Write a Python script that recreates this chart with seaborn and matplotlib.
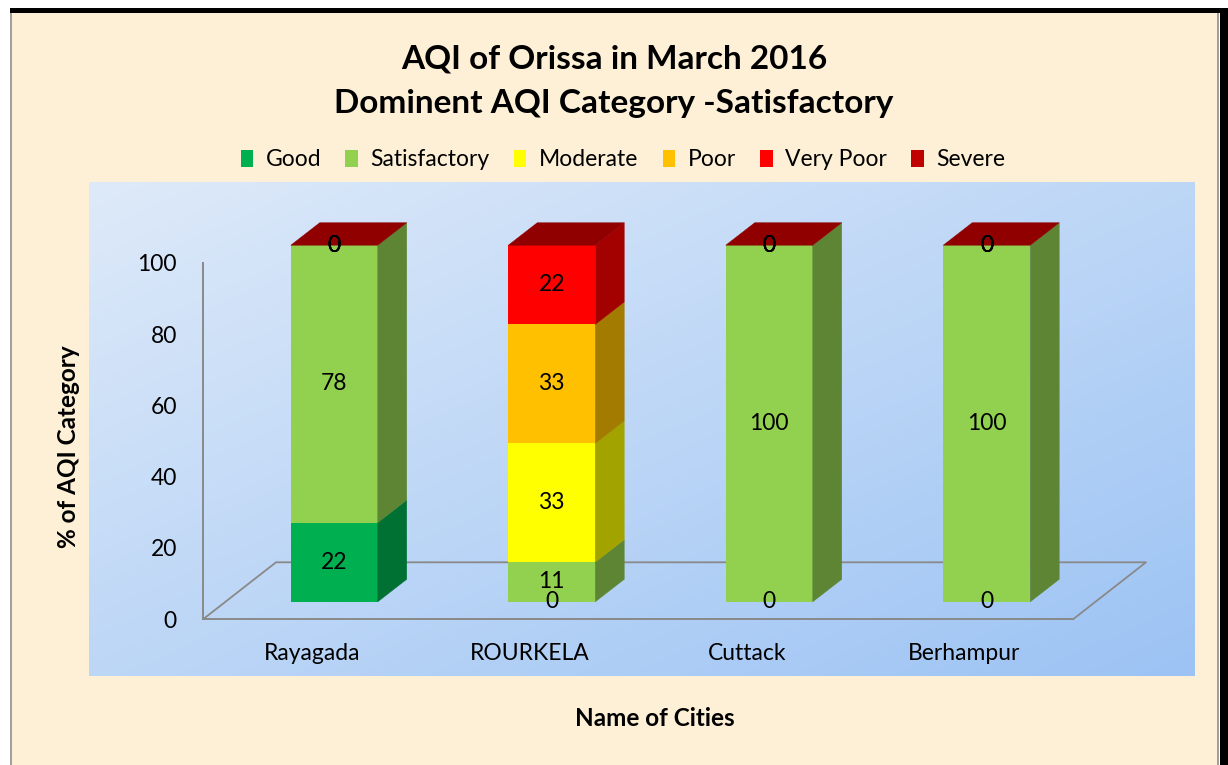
import numpy as np
import pandas as pd
import matplotlib
matplotlib.use("Agg")
import matplotlib.pyplot as plt
import matplotlib.transforms as mtransforms
from matplotlib.colors import to_rgb
from matplotlib.patches import Polygon, Rectangle, Patch
import seaborn as sns

# data (% of days per AQI category, labels shown rounded)
cities = ["Rayagada", "ROURKELA", "Cuttack", "Berhampur"]
categories = ["Good", "Satisfactory", "Moderate", "Poor", "Very Poor", "Severe"]
good = [22.22, 0, 0, 0]
satisfactory = [77.78, 11.11, 100, 100]
moderate = [0, 33.33, 0, 0]
poor = [0, 33.33, 0, 0]
very_poor = [0, 22.22, 0, 0]
severe = [0, np.nan, 0, 0]

colors = ["#00B050", "#92D050", "#FFFF00", "#FFC000", "#FF0000", "#C00000"]

df = pd.DataFrame({"Good": good, "Satisfactory": satisfactory, "Moderate": moderate,
                   "Poor": poor, "Very Poor": very_poor, "Severe": severe}, index=cities)
values = df.fillna(0)
tops = values.cumsum(axis=1)
bottoms = tops - values

sns.set_style("white")
plt.rcParams["font.family"] = ["Lato", "DejaVu Sans"]
plt.rcParams["text.color"] = "black"

gray = "#898989"
W, H = 1228, 765


def fx(px):
    return px / W


def fy(py):
    return 1 - py / H


def shade(c, f):
    return tuple(np.array(to_rgb(c)) * f)


fig = plt.figure(figsize=(W / 100, H / 100), dpi=100, facecolor="white")

# frame + parchment background
fig.patches.append(Rectangle((fx(10), 0), fx(1219) - fx(10), fy(13), transform=fig.transFigure,
                             facecolor="#FDF0D6", edgecolor="none", zorder=0))
fig.patches.append(Rectangle((fx(10), 0), fx(2), fy(13), transform=fig.transFigure,
                             facecolor="#A0A0A0", edgecolor="none", zorder=0))
fig.patches.append(Rectangle((fx(1217), 0), fx(2), fy(13), transform=fig.transFigure,
                             facecolor="#A0A0A0", edgecolor="none", zorder=0))
fig.patches.append(Rectangle((fx(10), fy(13)), 1 - fx(10), fy(8) - fy(13), transform=fig.transFigure,
                             facecolor="black", edgecolor="none", zorder=0))
fig.patches.append(Rectangle((fx(1220), 0), 1 - fx(1220), fy(8), transform=fig.transFigure,
                             facecolor="black", edgecolor="none", zorder=0))

# blue gradient plot area
bg = fig.add_axes([fx(89), fy(676), fx(1195) - fx(89), fy(182) - fy(676)], zorder=1)
c1, c2 = np.array(to_rgb("#DEEAF9")), np.array(to_rgb("#9CC3F4"))
u = np.linspace(0, 1, 300)
t = (u[None, :] + u[:, None]) / 2
bg.imshow(c1 + t[..., None] * (c2 - c1), aspect="auto", extent=(0, 1, 0, 1), origin="upper")
bg.axis("off")

# main axes
XU, YU = 217.5, 3.566  # pixels per data unit
ax = fig.add_axes([fx(203), fy(619.3), fx(1160) - fx(203), fy(200) - fy(619.3)], zorder=2)
ax.set_facecolor("none")

front = mtransforms.offset_copy(ax.transData, fig=fig, x=22.5, y=17.5, units="dots")
ddx, ddy = 29 / XU, 22.5 / YU

# stacked bars: draw cumulative tops from the top category down
last = []
for k in reversed(range(len(categories))):
    n0 = len(ax.patches)
    sns.barplot(x=cities, y=tops.iloc[:, k].values, color=colors[k], saturation=1,
                width=0.4, errorbar=None, edgecolor="none", linewidth=0, ax=ax)
    last = ax.patches[n0:]
    for p in last:
        p.set_transform(front)
        p.set_zorder(3)

# 3d side and top faces
for i, p in enumerate(last):
    xl, xr = p.get_x(), p.get_x() + p.get_width()
    for k in range(len(categories)):
        b, tp = bottoms.iat[i, k], tops.iat[i, k]
        if tp > b:
            c = shade(colors[k], 0.64)
            ax.add_patch(Polygon([(xr, b), (xr + ddx, b + ddy), (xr + ddx, tp + ddy), (xr, tp)],
                                 closed=True, facecolor=c, edgecolor=c, lw=0.3,
                                 transform=front, zorder=3))
    T = tops.iat[i, -1]
    c = shade(colors[-1], 0.75)
    ax.add_patch(Polygon([(xl, T), (xl + ddx, T + ddy), (xr + ddx, T + ddy), (xr, T)],
                         closed=True, facecolor=c, edgecolor=c, lw=0.3, transform=front, zorder=3))

# data labels
for i in range(len(cities)):
    for k in range(len(categories)):
        v = df.iat[i, k]
        if np.isnan(v):
            continue
        ax.text(i, bottoms.iat[i, k] + values.iat[i, k] / 2, f"{v:.0f}", transform=front,
                ha="center", va="center", fontsize=16.5, color="black", zorder=5)

# floor
fdx, fdy = 73 / XU, 57 / YU
ax.plot([-0.5, -0.5 + fdx, 3.5 + fdx, 3.5], [0, fdy, fdy, 0], color=gray, lw=1.3,
        clip_on=False, zorder=1)

ax.set_xlim(-0.5, -0.5 + (1160 - 203) / XU)
ax.set_ylim(0, (619.3 - 200) / YU)
for s in ["top", "right"]:
    ax.spines[s].set_visible(False)
for s in ["left", "bottom"]:
    ax.spines[s].set_color(gray)
    ax.spines[s].set_linewidth(1.4)
ax.spines["left"].set_bounds(0, 100)
ax.spines["bottom"].set_bounds(-0.5, 3.5)

ax.set_yticks(range(0, 101, 20))
ax.tick_params(axis="y", length=5.8, width=1.1, color=gray, pad=13, labelsize=16.5,
               labelcolor="black")
ax.set_xticks(range(len(cities)), cities)
ax.set_xticks(np.arange(-0.5, len(cities), 1), minor=True)
ax.tick_params(axis="x", which="major", length=0, pad=17, labelsize=16.5, labelcolor="black")
ax.tick_params(axis="x", which="minor", length=5, width=1.1, color=gray)
ax.set_xlabel("")
ax.set_ylabel("")

# titles and axis titles
fig.text(fx(614), fy(59), "AQI of Orissa in March 2016", ha="center", va="center",
         fontsize=24, fontweight="bold")
fig.text(fx(614), fy(104), "Dominent AQI Category -Satisfactory", ha="center", va="center",
         fontsize=24, fontweight="bold")
fig.text(fx(68), fy(447), "% of AQI Category", rotation=90, ha="center", va="center",
         fontsize=17.5, fontweight="bold")
fig.text(fx(655), fy(718), "Name of Cities", ha="center", va="center",
         fontsize=17.5, fontweight="bold")

# legend
handles = [Patch(facecolor=c, edgecolor="none") for c in colors]
fig.legend(handles, categories, loc="center", bbox_to_anchor=(fx(623), fy(160)), ncol=6,
           frameon=False, fontsize=16.5, handlelength=0.55, handleheight=0.7,
           handletextpad=0.55, columnspacing=1.05)

fig.savefig("out.png", dpi=100, facecolor=fig.get_facecolor())
